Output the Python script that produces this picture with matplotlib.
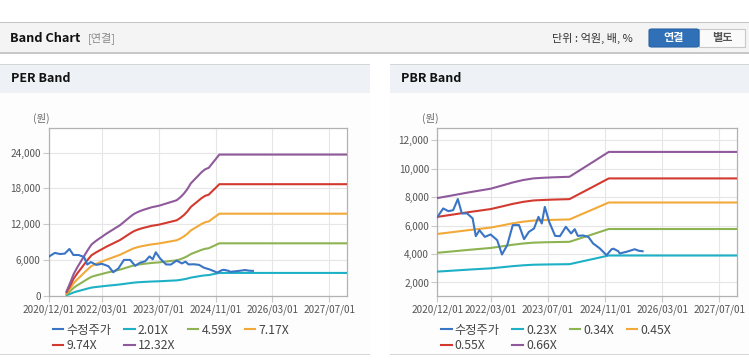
import matplotlib
matplotlib.use("Agg")
import matplotlib.pyplot as plt
import matplotlib.dates as mdates
from matplotlib.patches import Rectangle, FancyBboxPatch
from matplotlib.ticker import FuncFormatter
import pandas as pd

plt.rcParams['font.family'] = ['Noto Sans CJK KR', 'DejaVu Sans']

# adjusted share price (shared by both charts)
price_dates = ['2020-12-01', '2021-01-20', '2021-03-05', '2021-04-15', '2021-05-25',
               '2021-06-28', '2021-08-12', '2021-09-28', '2021-10-25', '2021-11-25',
               '2022-01-10', '2022-02-28', '2022-04-25', '2022-06-05', '2022-07-20',
               '2022-09-05', '2022-10-28', '2022-12-10', '2023-01-20', '2023-03-05',
               '2023-04-12', '2023-05-10', '2023-06-05', '2023-07-12', '2023-09-01',
               '2023-10-12', '2023-12-01', '2024-01-15', '2024-02-15', '2024-03-12',
               '2024-04-25', '2024-06-10', '2024-07-20', '2024-09-15', '2024-11-12',
               '2024-12-25', '2025-01-10', '2025-02-20', '2025-03-05', '2025-04-01',
               '2025-05-01', '2025-07-10', '2025-08-15', '2025-09-15']
price = [6600, 7210, 7020, 7090, 7870,
         6860, 6860, 6510, 5260, 5680,
         5210, 5380, 4980, 3970, 4630,
         6040, 6040, 5050, 5560, 5800,
         6620, 6150, 7320, 6270, 5280,
         5260, 5920, 5450, 5750, 5280,
         5310, 5210, 4750, 4400, 3920,
         4340, 4380, 4200, 4040, 4100,
         4160, 4340, 4230, 4200]

# PER band base (EPS)
eps_dates = ['2021-05-01', '2021-06-01', '2021-07-01', '2021-08-01', '2021-09-01',
             '2021-10-01', '2021-11-01', '2021-12-01', '2022-01-01', '2022-02-01',
             '2022-03-01', '2022-04-01', '2022-05-01', '2022-06-01', '2022-07-01',
             '2022-08-01', '2022-09-01', '2022-10-01', '2022-11-01', '2022-12-01',
             '2023-01-01', '2023-02-01', '2023-03-01', '2023-04-01', '2023-05-01',
             '2023-06-01', '2023-07-01', '2023-08-01', '2023-09-01', '2023-10-01',
             '2023-11-01', '2023-12-01', '2024-01-01', '2024-02-01', '2024-03-01',
             '2024-04-01', '2024-05-01', '2024-06-01', '2024-07-01', '2024-08-01',
             '2024-09-01', '2024-10-01', '2024-11-01', '2024-12-01', '2027-12-01']
eps = [65, 180, 300, 390, 470,
       550, 630, 700, 740, 775,
       805, 840, 870, 900, 930,
       960, 1000, 1040, 1080, 1115,
       1140, 1160, 1175, 1190, 1205,
       1215, 1225, 1240, 1255, 1270,
       1285, 1300, 1340, 1390, 1450,
       1530, 1580, 1630, 1680, 1720,
       1740, 1800, 1860, 1920, 1920]
per_labels = ['2.01X', '4.59X', '7.17X', '9.74X', '12.32X']
per_mults = [2.01, 4.59, 7.17, 9.74, 12.32]

# PBR band base (BPS)
bps_dates = ['2020-12-01', '2021-03-01', '2021-06-01', '2021-09-01', '2021-12-01',
             '2022-03-01', '2022-06-01', '2022-09-01', '2022-12-01', '2023-03-01',
             '2023-06-01', '2023-09-01', '2024-01-01', '2024-04-01', '2024-06-01',
             '2024-08-01', '2024-10-01', '2024-12-01', '2027-12-01']
bps = [12030, 12230, 12440, 12650, 12840,
       13030, 13350, 13680, 13950, 14130,
       14200, 14250, 14300, 15020, 15500,
       15980, 16470, 16950, 16950]
pbr_labels = ['0.23X', '0.34X', '0.45X', '0.55X', '0.66X']
pbr_mults = [0.23, 0.34, 0.45, 0.55, 0.66]

x_ticks = ['2020-12-01', '2022-03-01', '2023-07-01', '2024-11-01', '2026-03-01', '2027-07-01']
price_label = '수정주가'
price_color = '#3a74c4'
band_colors = ['#1eb1c6', '#8db352', '#f1a93a', '#d33a2f', '#8f5a9b']

W, H = 749, 364
fig = plt.figure(figsize=(W / 100, H / 100), dpi=100)


def px_rect(x0, y0, x1, y1, **kw):
    # rectangle in pixel coords measured from the top-left corner
    fig.patches.append(Rectangle((x0 / W, 1 - y1 / H), (x1 - x0) / W, (y1 - y0) / H,
                                 transform=fig.transFigure, zorder=-10, **kw))


def px_text(x, y, s, **kw):
    fig.text(x / W, 1 - y / H, s, va='center', **kw)


# top header bar
px_rect(0, 22, W, 53, facecolor='#f4f4f4', edgecolor='none')
px_rect(0, 21.5, W, 23, facecolor='#c4c4c4', edgecolor='none')
px_rect(0, 52, W, 54, facecolor='#c8c8c8', edgecolor='none')
px_text(10, 38, 'Band Chart', fontsize=9.2, fontweight='bold', color='#111')
px_text(88, 38, '[연결]', fontsize=8, color='#8a8a8a')
px_text(552, 38, '단위 : 억원, 배, %', fontsize=8, color='#333')
fig.patches.append(FancyBboxPatch((649 / W, 1 - 47 / H), 50 / W, 18 / H,
                                  boxstyle='round,pad=0,rounding_size=0.004',
                                  transform=fig.transFigure, facecolor='#2f70b7',
                                  edgecolor='#2a64a5', lw=0.8, zorder=-5))
px_rect(699, 29, 745, 47, facecolor='#fafafa', edgecolor='#c8c8c8', lw=0.8)
px_text(674, 38, '연결', fontsize=8, fontweight='bold', color='white', ha='center')
px_text(722, 38, '별도', fontsize=8, fontweight='bold', color='#555', ha='center')

# panel backgrounds
for x0, x1 in [(0, 370), (390, W)]:
    px_rect(x0, 64, x1, 93, facecolor='#eef2f7', edgecolor='none')
    px_rect(x0, 63.5, x1, 64.5, facecolor='#d6d6d6', edgecolor='none')
    px_rect(x0, 93, x1, 354, facecolor='#fdfdfd', edgecolor='none')
    px_rect(x0, 353.5, x1, 354.5, facecolor='#d6d6d6', edgecolor='none')
px_text(11, 79, 'PER Band', fontsize=9, fontweight='bold', color='#111')
px_text(401, 79, 'PBR Band', fontsize=9, fontweight='bold', color='#111')
px_text(33, 118, '(원)', fontsize=7.5, color='#666')
px_text(422, 118, '(원)', fontsize=7.5, color='#666')

ax1 = fig.add_axes([49 / W, 1 - 296 / H, 298 / W, 168 / H])
ax2 = fig.add_axes([437.3 / W, 1 - 296 / H, 300 / W, 168 / H])

pd_price = pd.to_datetime(price_dates)
thousands = FuncFormatter(lambda v, p: f'{v:,.0f}')


def draw(ax, base_dates, base, mults, labels, ylim, yticks):
    handles = []
    h, = ax.plot(pd_price, price, color=price_color, lw=1.5, label=price_label, zorder=5)
    handles.append(h)
    bd = pd.to_datetime(base_dates)
    for m, lab, c in zip(mults, labels, band_colors):
        h, = ax.plot(bd, [m * b for b in base], color=c, lw=1.5, label=lab, zorder=3)
        handles.append(h)
    ax.set_xlim(pd.Timestamp('2020-12-01'), pd.Timestamp('2027-12-01'))
    ax.set_ylim(*ylim)
    ax.set_yticks(yticks)
    ax.yaxis.set_major_formatter(thousands)
    ax.set_xticks(pd.to_datetime(x_ticks))
    ax.xaxis.set_major_formatter(mdates.DateFormatter('%Y/%m/%d'))
    ax.grid(True, color='#e6e6e6', lw=0.8)
    ax.set_axisbelow(True)
    ax.set_facecolor('white')
    for s in ax.spines.values():
        s.set_color('#b2b2b2')
        s.set_linewidth(0.9)
    ax.tick_params(length=4, width=0.8, color='#c8c8c8', labelsize=7.2,
                   labelcolor='#555', pad=2)
    # row-major ordering for a 4-column legend
    order = [0, 4, 1, 5, 2, 3]
    leg = ax.legend([handles[i] for i in order], [handles[i].get_label() for i in order],
                    ncol=4, loc='upper left', bbox_to_anchor=(0.013, -0.165),
                    frameon=False, fontsize=8.8, handlelength=0.85, handletextpad=0.25,
                    columnspacing=1.05, labelspacing=0.2, borderpad=0, borderaxespad=0)
    for t in leg.get_texts():
        t.set_color('#444')


draw(ax1, eps_dates, eps, per_mults, per_labels, (0, 28100),
     [0, 6000, 12000, 18000, 24000])
draw(ax2, bps_dates, bps, pbr_mults, pbr_labels, (1050, 12870),
     [2000, 4000, 6000, 8000, 10000, 12000])

fig.savefig('out.png', dpi=100)
